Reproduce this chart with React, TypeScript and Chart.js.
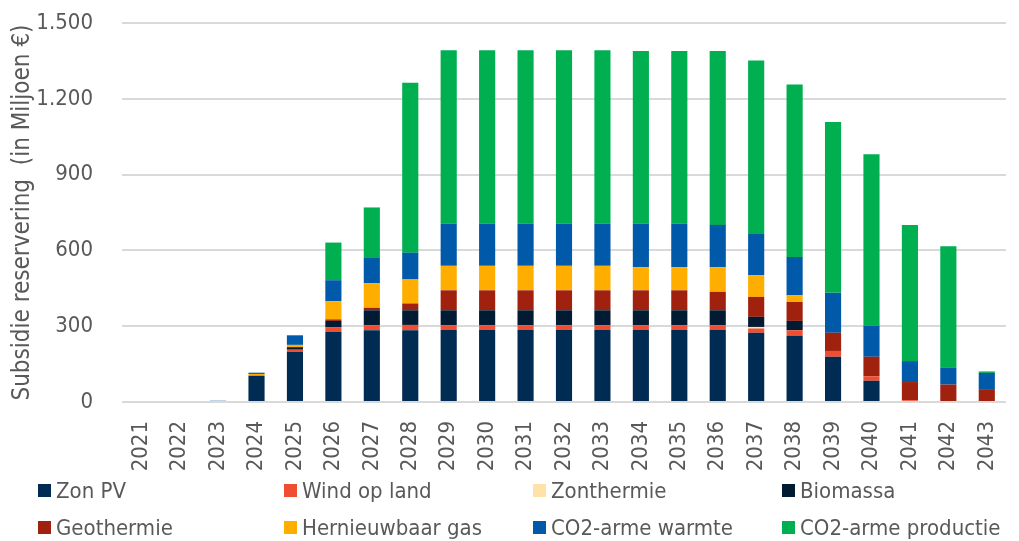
import React, { useEffect, useRef } from "react";
import { Chart, registerables } from "chart.js";

Chart.register(...registerables);

const years = ["2021","2022","2023","2024","2025","2026","2027","2028","2029","2030","2031","2032","2033","2034","2035","2036","2037","2038","2039","2040","2041","2042","2043"];

const zonPV =        [0, 0, 0, 104, 199, 278, 284, 284, 285, 285, 285, 285, 285, 285, 285, 285, 274, 262, 179, 84, 0, 0, 0];
const windOpLand =   [0, 0, 0, 0, 8, 17, 20, 21, 19, 19, 19, 19, 19, 19, 19, 19, 17, 22, 23, 18, 7, 0, 0];
const zonthermie =   [0, 0, 0, 0, 0, 0, 0, 0, 0, 0, 0, 0, 0, 0, 0, 0, 6, 0, 0, 0, 0, 0, 0];
const biomassa =     [0, 0, 0, 0, 10, 26, 59, 58, 59, 59, 59, 59, 59, 59, 59, 59, 40, 37, 0, 0, 0, 0, 0];
const geothermie =   [0, 0, 0, 0, 0, 6, 10, 27, 79, 79, 79, 79, 79, 79, 79, 73, 79, 75, 72, 77, 72, 69, 51];
const hernieuwbaarGas = [0, 0, 0, 7, 9, 72, 97, 95, 97, 97, 97, 97, 97, 92, 92, 98, 86, 26, 0, 0, 0, 0, 0];
const co2Warmte =    [0, 0, 5, 5, 38, 83, 100, 106, 168, 168, 168, 168, 168, 173, 173, 167, 163, 152, 158, 123, 83, 67, 64];
const co2Productie = [0, 0, 0, 0, 0, 149, 200, 673, 685, 685, 685, 685, 685, 682, 682, 688, 687, 683, 676, 679, 539, 480, 6];

const yTicks = [0, 300, 600, 900, 1200, 1500];

const seriesNames = ["Zon PV", "Wind op land", "Zonthermie", "Biomassa", "Geothermie", "Hernieuwbaar gas", "CO2-arme warmte", "CO2-arme productie"];
const seriesColors = ["#002c54", "#f04e33", "#ffe2a8", "#011b33", "#a0220e", "#ffae00", "#0059a9", "#00af50"];
const seriesData = [zonPV, windOpLand, zonthermie, biomassa, geothermie, hernieuwbaarGas, co2Warmte, co2Productie];

const FONT = "'DejaVu Sans Condensed', 'DejaVu Sans', sans-serif";
const TEXT = "#595959";

function fmt(v: number): string {
  const s = String(Math.round(v));
  return s.replace(/\B(?=(\d{3})+(?!\d))/g, ".");
}

export default function App() {
  const ref = useRef<HTMLCanvasElement | null>(null);

  useEffect(() => {
    if (!ref.current) return;
    const chart = new Chart(ref.current, {
      type: "bar",
      data: {
        labels: years,
        datasets: seriesNames.map((name, i) => ({
          label: name,
          data: seriesData[i],
          backgroundColor: seriesColors[i],
          borderWidth: 0,
          barPercentage: 0.42,
          categoryPercentage: 1,
        })),
      },
      options: {
        animation: false,
        responsive: false,
        maintainAspectRatio: false,
        layout: { padding: { top: 23, right: 13, bottom: 67, left: 0 } },
        plugins: {
          legend: { display: false },
          tooltip: { enabled: false },
        },
        scales: {
          x: {
            stacked: true,
            grid: { display: true, color: "rgba(0,0,0,0)", drawTicks: true, tickLength: 17, tickColor: "rgba(0,0,0,0)" },
            border: { display: false },
            ticks: {
              color: TEXT,
              font: { family: FONT, size: 22 },
              minRotation: 90,
              maxRotation: 90,
              padding: 2,
              autoSkip: false,
            },
            afterFit: (scale: any) => {
              scale.height = 72;
            },
          },
          y: {
            stacked: true,
            min: 0,
            max: 1500,
            afterBuildTicks: (scale: any) => {
              scale.ticks = yTicks.map((v) => ({ value: v }));
            },
            grid: { color: "#d9d9d9", lineWidth: 2, drawTicks: true, tickLength: 26, tickColor: "rgba(0,0,0,0)" },
            border: { display: false },
            ticks: {
              color: TEXT,
              font: { family: FONT, size: 22 },
              padding: 3,
              callback: (v: any) => fmt(Number(v)),
            },
            title: {
              display: true,
              text: "Subsidie reservering  (in Miljoen €)",
              color: TEXT,
              font: { family: FONT, size: 24 },
              padding: { top: 8, bottom: 0 },
            },
            afterFit: (scale: any) => {
              scale.width = 122;
            },
          },
        },
      },
    });
    return () => chart.destroy();
  }, []);

  const colStarts = [38, 284, 533, 782];
  return (
    <div style={{ position: "absolute", left: 0, top: 0, width: 1019, height: 541, background: "#fff" }}>
      <canvas ref={ref} width={1019} height={541} style={{ position: "absolute", left: 0, top: 0 }} />
      {seriesNames.map((name, i) => {
        const col = i % 4;
        const row = Math.floor(i / 4);
        return (
          <div
            key={name}
            style={{
              position: "absolute",
              left: colStarts[col],
              top: row === 0 ? 477 : 514,
              height: 26,
              display: "flex",
              alignItems: "center",
              fontFamily: FONT,
              fontSize: 22,
              color: TEXT,
              whiteSpace: "nowrap",
            }}
          >
            <span style={{ display: "inline-block", width: 13, height: 13, background: seriesColors[i], marginRight: 5 }} />
            <span>{name}</span>
          </div>
        );
      })}
    </div>
  );
}
